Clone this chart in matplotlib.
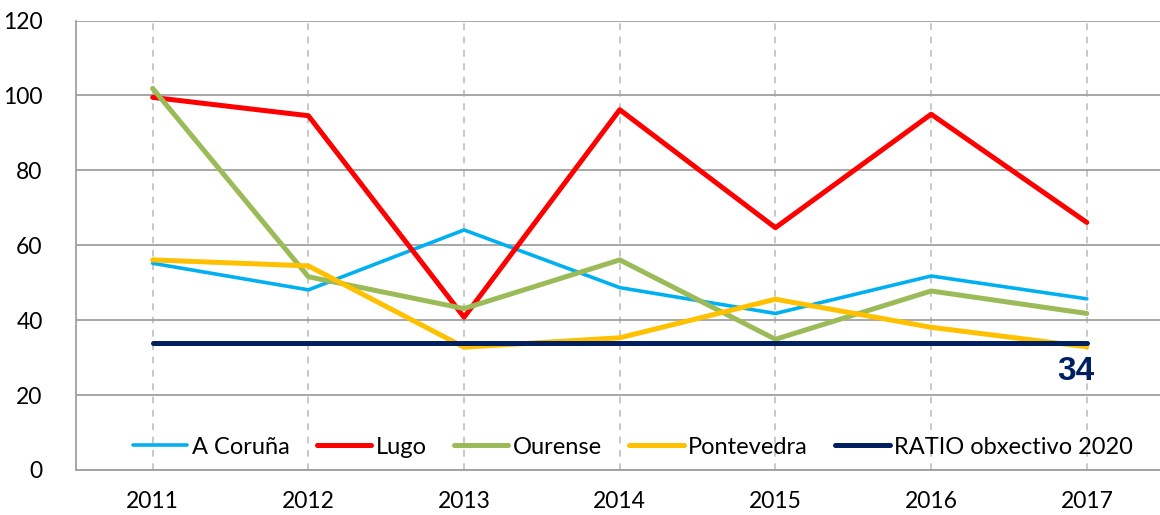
import matplotlib
matplotlib.use('Agg')
import matplotlib.pyplot as plt

plt.rcParams['font.family'] = ['Lato', 'DejaVu Sans']

# -----------------------------------------------------------------------------
# Data
# -----------------------------------------------------------------------------
years = ['2011', '2012', '2013', '2014', '2015', '2016', '2017']
a_coruna = [55.2, 48.1, 64.1, 48.7, 41.8, 51.8, 45.7]
lugo = [99.5, 94.6, 40.8, 96.2, 64.7, 95.0, 66.1]
ourense = [101.9, 51.6, 43.1, 56.1, 34.9, 47.8, 41.8]
pontevedra = [56.1, 54.5, 32.8, 35.3, 45.6, 38.1, 32.9]
ratio_2020 = [34, 34, 34, 34, 34, 34, 34]
ratio_label = '34'

series = [
    ('A Coruña', a_coruna, '#00B0F0', 2.6),
    ('Lugo', lugo, '#FF0000', 3.6),
    ('Ourense', ourense, '#9BBB59', 3.6),
    ('Pontevedra', pontevedra, '#FFC000', 3.6),
    ('RATIO obxectivo 2020', ratio_2020, '#002060', 3.6),
]

# -----------------------------------------------------------------------------
# Plot
# -----------------------------------------------------------------------------
fig = plt.figure(figsize=(11.6, 5.15), dpi=100)
ax = fig.add_axes([0.0655, 0.0874, 0.9345, 0.8726])

x = range(len(years))
for name, vals, col, lw in series:
    ax.plot(x, vals, color=col, linewidth=lw, label=name, solid_capstyle='round', zorder=3)

ax.set_xlim(-0.4926, 6.47)
ax.set_ylim(0, 120)
ax.set_yticks(range(0, 121, 20))
ax.set_xticks(list(x))
ax.set_xticklabels(years)

# grid: solid horizontal, dashed vertical
ax.grid(axis='y', color='#A0A0A0', linewidth=1.3, linestyle='-', zorder=0)
ax.grid(axis='x', color='#BFBFBF', linewidth=1.2, linestyle=(0, (4, 4)), zorder=0)

for side in ['top', 'right']:
    ax.spines[side].set_visible(False)
for side in ['left', 'bottom']:
    ax.spines[side].set_color('#A0A0A0')
    ax.spines[side].set_linewidth(1.3)

ax.tick_params(axis='both', length=0, labelsize=16.5, colors='#000000')
ax.tick_params(axis='y', pad=24)
ax.tick_params(axis='x', pad=15)

ax.text(5.93, 26.2, ratio_label, color='#002060', fontsize=24, fontweight='bold',
        family=['Liberation Sans', 'DejaVu Sans'], ha='center', va='center')

ax.legend(loc='center', bbox_to_anchor=(633 / 1160, (515 - 447) / 515),
          bbox_transform=fig.transFigure, ncol=5, frameon=False, fontsize=17,
          handlelength=2.3, handletextpad=0.2, columnspacing=1.15)

plt.savefig('out.png', dpi=100)
plt.close()
